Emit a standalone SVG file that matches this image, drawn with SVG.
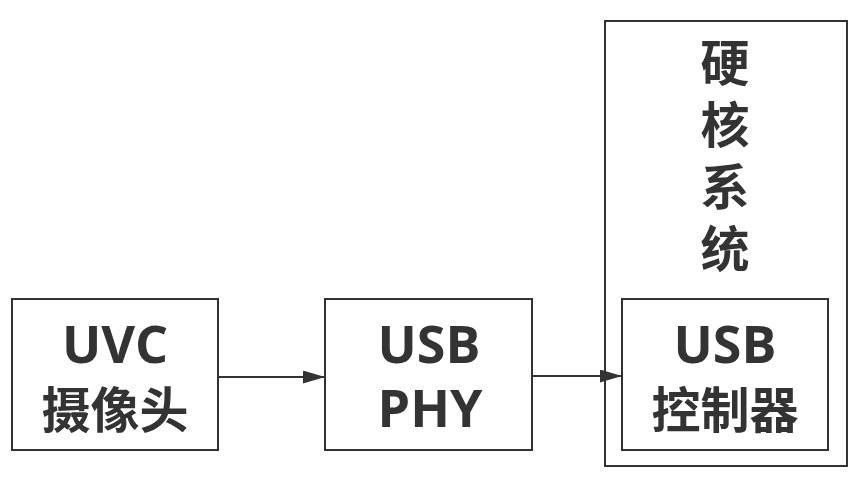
<svg xmlns="http://www.w3.org/2000/svg" width="863" height="482" viewBox="0 0 863 482">
<style>
.box{fill:#fff;stroke:#333;stroke-width:2}
.t{font-family:"Open Sans","Noto Sans CJK SC",sans-serif;font-weight:bold;font-size:52px;fill:#333;text-anchor:middle}
.z{font-family:"Noto Sans CJK SC",sans-serif;font-size:49px}
.c{stroke:#333;stroke-width:2;fill:none}
</style>
<defs>
<marker id="ah2" viewBox="0 0 22 13" refX="22" refY="6.5" markerWidth="22" markerHeight="13" markerUnits="userSpaceOnUse" orient="auto">
<path d="M0,0 L22,6.5 L0,13 Z" fill="#333"/>
</marker>
</defs>
<g id="hardcore">
<rect class="box" x="605" y="21" width="242" height="445"/>
<text class="t z" x="725" y="81">硬<tspan x="725" dy="62">核</tspan><tspan x="725" dy="62">系</tspan><tspan x="725" dy="62">统</tspan></text>
</g>
<g id="uvc">
<rect class="box" x="12" y="299" width="206" height="151"/>
<text class="t" x="115" y="363">UVC</text>
<text class="t z" x="115" y="428">摄像头</text>
</g>
<g id="phy">
<rect class="box" x="325" y="299" width="207" height="151"/>
<text class="t" x="429" y="363">USB</text>
<text class="t" x="430" y="427">PHY</text>
</g>
<g id="ctrl">
<rect class="box" x="622" y="299" width="206" height="151"/>
<text class="t" x="725" y="363">USB</text>
<text class="t z" x="725" y="428">控制器</text>
</g>
<g id="connectors">
<line class="c" x1="218" y1="377" x2="325" y2="377" marker-end="url(#ah2)"/>
<line class="c" x1="532" y1="376" x2="622" y2="376" marker-end="url(#ah2)"/>
</g>
</svg>
